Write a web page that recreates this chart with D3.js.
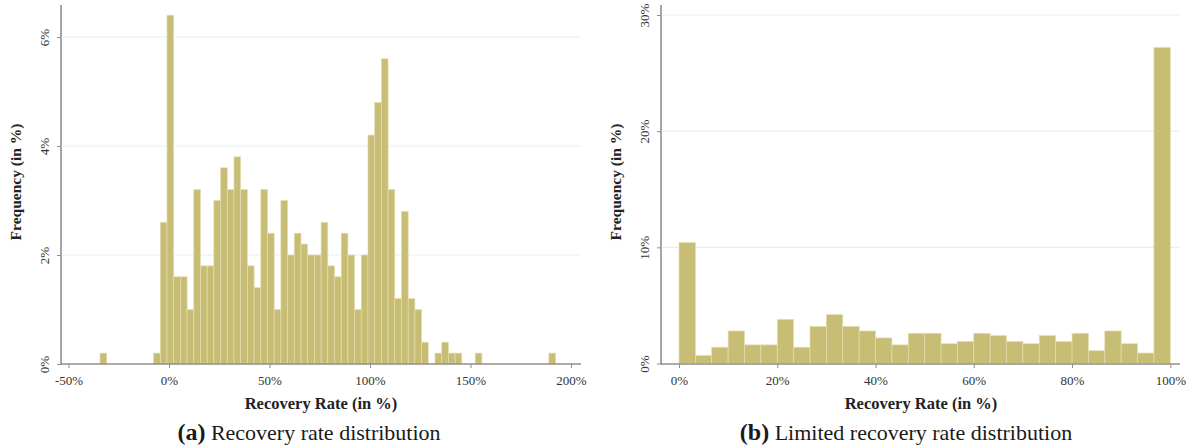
<!DOCTYPE html>
<html>
<head>
<meta charset="utf-8">
<script src="https://cdn.jsdelivr.net/npm/d3@7"></script>
<style>
  html, body { margin: 0; padding: 0; background: #fff; }
  svg { display: block; }
  text { font-family: "Liberation Serif", "DejaVu Serif", serif; }
</style>
</head>
<body>
<svg id="chart" width="1197" height="448"></svg>
<script>
// ---- Data: panel (a) recovery rate distribution ----
const binWidthA = 10 / 3;
const binStartA = [-34.33, -7.67, -4.33, -1, 2.33, 5.67, 9, 12.33, 15.67, 19, 22.33, 25.67, 29, 32.33, 35.67,
  39, 42.33, 45.67, 49, 52.33, 55.67, 59, 62.33, 65.67, 69, 72.33, 75.67, 79, 82.33, 85.67,
  89, 92.33, 95.67, 99, 102.33, 105.67, 109, 112.33, 115.67, 119, 122.33, 125.67,
  132.33, 135.67, 139, 142.33, 152.33, 189];
const freqA = [0.2, 0.2, 2.6, 6.4, 1.6, 1.6, 1.0, 3.2, 1.8, 1.8, 3.0, 3.6, 3.2, 3.8, 3.2,
  1.8, 1.4, 3.2, 2.4, 1.0, 3.0, 2.0, 2.4, 2.2, 2.0, 2.0, 2.6, 1.8, 1.6, 2.4,
  2.0, 1.0, 2.0, 4.2, 4.8, 5.6, 3.2, 1.2, 2.8, 1.2, 1.0, 0.4,
  0.2, 0.4, 0.2, 0.2, 0.2, 0.2];
const xTicksA = [-50, 0, 50, 100, 150, 200];
const yTicksA = [0, 2, 4, 6];

// ---- Data: panel (b) limited recovery rate distribution ----
const binWidthB = 10 / 3;
const binStartB = d3.range(30).map(i => i * binWidthB); // bin edges 0, 3.33, ..., 96.67
const freqB = [10.4, 0.7, 1.4, 2.8, 1.6, 1.6, 3.8, 1.4, 3.2, 4.2,
  3.2, 2.8, 2.2, 1.6, 2.6, 2.6, 1.7, 1.9, 2.6, 2.4,
  1.9, 1.7, 2.4, 1.9, 2.6, 1.1, 2.8, 1.7, 0.9, 27.2];
const xTicksB = [0, 20, 40, 60, 80, 100];
const yTicksB = [0, 10, 20, 30];

const xTitle = "Recovery Rate (in %)";
const yTitle = "Frequency (in %)";
const captionA = ["(a)", " Recovery rate distribution"];
const captionB = ["(b)", " Limited recovery rate distribution"];

const BAR_FILL = "#c8bd74";
const BAR_STROKE = "#e4ddb0";
const AXIS_COLOR = "#8f8f8f";
const GRID_COLOR = "#e3eaee";

const svg = d3.select("#chart");

function panel(opts) {
  const g = svg.append("g");
  const x = d3.scaleLinear().domain(opts.xDomain).range(opts.xRange);
  const y = d3.scaleLinear().domain(opts.yDomain).range(opts.yRange);

  // gridlines
  g.selectAll("line.grid").data(opts.yTicks.filter(t => t > 0)).join("line")
    .attr("class", "grid")
    .attr("x1", opts.axisX + 2).attr("x2", opts.axisRight)
    .attr("y1", d => y(d)).attr("y2", d => y(d))
    .attr("stroke", GRID_COLOR).attr("stroke-width", 1.2)
    .attr("stroke-dasharray", "3,1");

  // bars
  g.selectAll("rect.bar").data(opts.starts.map((s, i) => ({ s, v: opts.values[i] }))).join("rect")
    .attr("class", "bar")
    .attr("x", d => x(d.s))
    .attr("width", d => x(d.s + opts.binWidth) - x(d.s))
    .attr("y", d => y(d.v))
    .attr("height", d => y(0) - y(d.v))
    .attr("fill", BAR_FILL)
    .attr("stroke", BAR_STROKE)
    .attr("stroke-width", 0.7);

  // x axis
  const xAxis = g.append("g")
    .attr("transform", `translate(0,${opts.axisY})`)
    .call(d3.axisBottom(x).tickValues(opts.xTicks).tickSize(4).tickSizeOuter(0)
      .tickFormat(d => d + "%"));
  xAxis.select(".domain").remove();
  xAxis.selectAll(".tick line").attr("stroke", AXIS_COLOR).attr("stroke-width", 1);
  xAxis.selectAll(".tick text")
    .attr("y", 12)
    .attr("font-size", 13)
    .attr("fill", "#333")
    .style("font-family", "'Liberation Serif', serif");
  g.append("line")
    .attr("x1", opts.axisX).attr("x2", opts.axisRight)
    .attr("y1", opts.axisY).attr("y2", opts.axisY)
    .attr("stroke", AXIS_COLOR).attr("stroke-width", 1.6);

  // y axis
  const yAxis = g.append("g")
    .attr("transform", `translate(${opts.axisX},0)`)
    .call(d3.axisLeft(y).tickValues(opts.yTicks).tickSize(4).tickSizeOuter(0)
      .tickFormat(d => d + "%"));
  yAxis.select(".domain").remove();
  yAxis.selectAll(".tick line").attr("stroke", AXIS_COLOR).attr("stroke-width", 1);
  yAxis.selectAll(".tick text")
    .attr("x", null).attr("dy", null)
    .attr("transform", "translate(-17,0) rotate(-90)")
    .attr("text-anchor", "middle")
    .attr("dy", "0.35em")
    .attr("font-size", 13)
    .attr("fill", "#333");
  g.append("line")
    .attr("x1", opts.axisX).attr("x2", opts.axisX)
    .attr("y1", opts.axisTop).attr("y2", opts.axisY + 0.8)
    .attr("stroke", AXIS_COLOR).attr("stroke-width", 1.6);

  // axis titles
  g.append("text")
    .attr("x", opts.xTitleX).attr("y", opts.axisY + 45)
    .attr("text-anchor", "middle")
    .attr("font-size", 16.5).attr("font-weight", "bold").attr("fill", "#222")
    .text(xTitle);
  g.append("text")
    .attr("transform", `translate(${opts.yTitleX},${opts.yTitleY}) rotate(-90)`)
    .attr("text-anchor", "middle")
    .attr("font-size", 15.5).attr("font-weight", "bold").attr("fill", "#222")
    .text(yTitle);

  // caption
  const cap = g.append("text")
    .attr("x", opts.captionX).attr("y", 440)
    .attr("text-anchor", "middle")
    .attr("fill", "#1a1a1a");
  cap.append("tspan").attr("font-size", 24).attr("font-weight", "bold").text(opts.caption[0]);
  cap.append("tspan").attr("font-size", 22).text(opts.caption[1]);
}

panel({
  xDomain: [-50, 200], xRange: [68.5, 571],
  yDomain: [0, 6], yRange: [364, 37],
  axisX: 61, axisY: 364, axisTop: 5, axisRight: 581,
  starts: binStartA, values: freqA, binWidth: binWidthA,
  xTicks: xTicksA, yTicks: yTicksA,
  xTitleX: 321, yTitleX: 21, yTitleY: 182,
  caption: captionA, captionX: 309
});

panel({
  xDomain: [0, 100], xRange: [679, 1170.3],
  yDomain: [0, 30], yRange: [363.5, 15],
  axisX: 661, axisY: 364, axisTop: 5, axisRight: 1180,
  starts: binStartB, values: freqB, binWidth: binWidthB,
  xTicks: xTicksB, yTicks: yTicksB,
  xTitleX: 921, yTitleX: 621, yTitleY: 182,
  caption: captionB, captionX: 906
});
</script>
</body>
</html>
